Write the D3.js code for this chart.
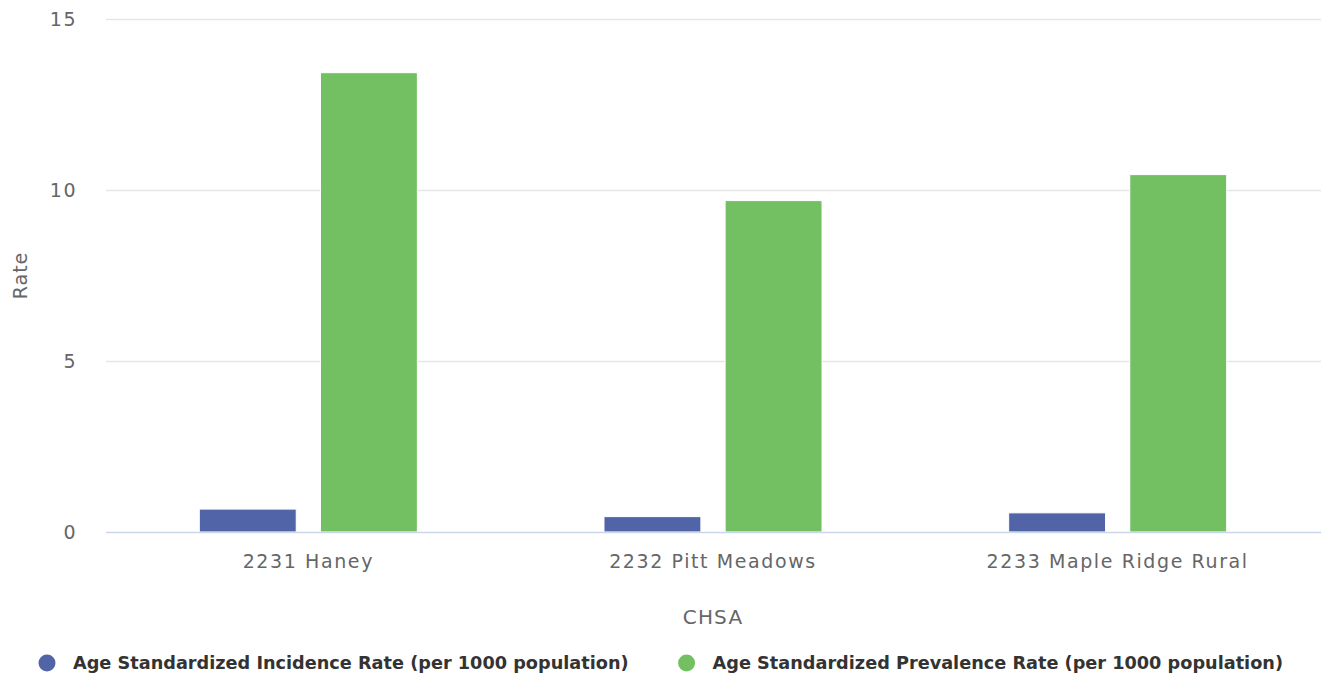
<!DOCTYPE html>
<html>
<head>
<meta charset="utf-8">
<script src="https://cdn.jsdelivr.net/npm/d3@7/dist/d3.min.js"></script>
<style>
  html, body { margin: 0; padding: 0; background: #fff; }
  svg { display: block; font-family: "DejaVu Sans", "Lucida Grande", Arial, sans-serif; }
</style>
</head>
<body>
<svg id="chart" width="1321" height="677"></svg>
<script>
// Rates per CHSA.
const categories = ["2231 Haney", "2232 Pitt Meadows", "2233 Maple Ridge Rural"];
const seriesNames = [
  "Age Standardized Incidence Rate (per 1000 population)",
  "Age Standardized Prevalence Rate (per 1000 population)"
];
const incidence = [0.67, 0.45, 0.56];
const prevalence = [13.43, 9.69, 10.45];
const yTicks = [0, 5, 10, 15];
const colours = ["#5264a8", "#73c062"];

const svg = d3.select("#chart");
const W = 1321, H = 677;
const plot = { left: 106, right: 1320, top: 19, bottom: 532 };

const x0 = d3.scaleBand().domain(categories).range([plot.left, plot.right]).paddingInner(0).paddingOuter(0);
// Group occupies the middle ~54% of each category, two bars with a small gap.
const groupPad = 0.2306 * x0.bandwidth();
const x1 = d3.scaleBand().domain(d3.range(seriesNames.length))
  .range([groupPad, x0.bandwidth() - groupPad]).paddingInner(0.2).paddingOuter(0);
const y = d3.scaleLinear().domain([0, 15]).range([plot.bottom, plot.top]);

// Gridlines.
svg.append("g")
  .selectAll("line")
  .data(yTicks.filter((t) => t !== 0))
  .join("line")
  .attr("x1", plot.left).attr("x2", W)
  .attr("y1", (d) => y(d) + 0.5).attr("y2", (d) => y(d) + 0.5)
  .attr("stroke", "#e6e6e6").attr("stroke-width", 1.5);

// Y tick labels.
svg.append("g")
  .selectAll("text")
  .data(yTicks)
  .join("text")
  .attr("x", 77)
  .attr("y", (d) => y(d))
  .attr("dy", "0.36em")
  .attr("text-anchor", "end")
  .attr("font-size", 19)
  .attr("letter-spacing", 1.5)
  .attr("fill", "#666666")
  .text((d) => d);

// Bars.
const rows = categories.map((c, i) => ({ c, values: [incidence[i], prevalence[i]] }));
svg.append("g")
  .selectAll("g")
  .data(rows)
  .join("g")
  .attr("transform", (d) => `translate(${x0(d.c)},0)`)
  .selectAll("rect")
  .data((d) => d.values.map((v, k) => ({ v, k })))
  .join("rect")
  .attr("x", (d) => x1(d.k))
  .attr("width", x1.bandwidth())
  .attr("y", (d) => y(d.v))
  .attr("height", (d) => y(0) - y(d.v))
  .attr("fill", (d) => colours[d.k])
  .attr("stroke", "#ffffff")
  .attr("stroke-width", 1);

// X axis baseline.
svg.append("line")
  .attr("x1", plot.left).attr("x2", W)
  .attr("y1", plot.bottom + 0.5).attr("y2", plot.bottom + 0.5)
  .attr("stroke", "#ccd6eb").attr("stroke-width", 1.5);

// X tick labels.
svg.append("g")
  .selectAll("text")
  .data(categories)
  .join("text")
  .attr("x", (d) => x0(d) + x0.bandwidth() / 2)
  .attr("y", 568)
  .attr("text-anchor", "middle")
  .attr("font-size", 19)
  .attr("letter-spacing", 1.6)
  .attr("fill", "#666666")
  .text((d) => d);

// Axis titles.
svg.append("text")
  .attr("x", (plot.left + plot.right) / 2)
  .attr("y", 624)
  .attr("text-anchor", "middle")
  .attr("font-size", 20)
  .attr("letter-spacing", 1.2)
  .attr("fill", "#666666")
  .text("CHSA");

svg.append("text")
  .attr("transform", `translate(27,${(plot.top + plot.bottom) / 2}) rotate(-90)`)
  .attr("text-anchor", "middle")
  .attr("font-size", 19)
  .attr("letter-spacing", 1)
  .attr("fill", "#666666")
  .text("Rate");

// Legend.
const legend = svg.append("g");
let lx = 38;
seriesNames.forEach((name, k) => {
  const item = legend.append("g").attr("transform", `translate(${lx},663)`);
  item.append("circle").attr("cx", 9).attr("cy", 0).attr("r", 8.5).attr("fill", colours[k]);
  const t = item.append("text")
    .attr("x", 35).attr("y", 0).attr("dy", "0.35em")
    .attr("font-size", 17.7)
    .attr("font-weight", "bold")
    .attr("fill", "#333333")
    .text(name);
  lx += 35 + t.node().getComputedTextLength() + 49;
});
</script>
</body>
</html>
